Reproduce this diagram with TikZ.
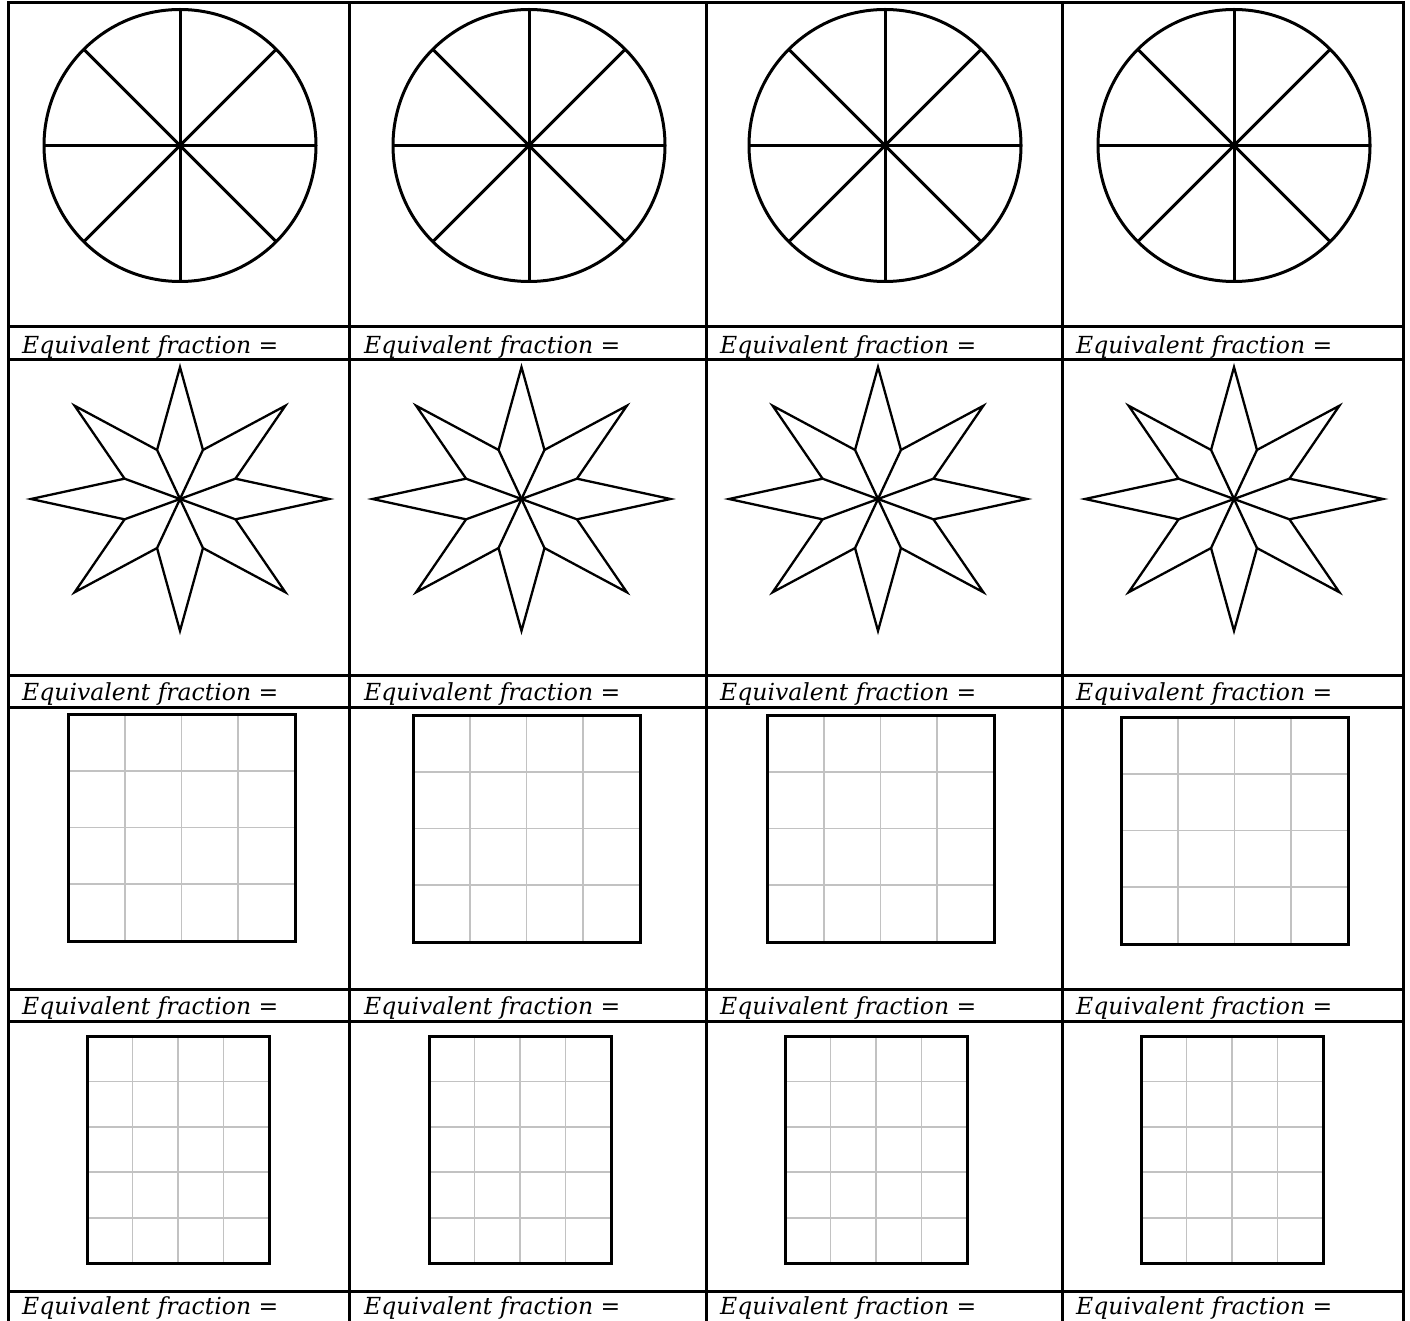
\documentclass[tikz,border=0pt]{standalone}
\usepackage{fontspec}
\setmainfont{DejaVu Serif}
\begin{document}
\begin{tikzpicture}[x=1pt,y=-1pt,
  rule/.style={line width=3pt,line cap=rect},
  pie/.style={line width=3pt},
  starline/.style={line width=2.3pt,line join=miter},
  frame/.style={line width=3pt},
  fine/.style={line width=1.8pt,draw=black!24},
  lbl/.style={anchor=base west,inner sep=0pt,font=\fontsize{23.5}{27}\selectfont\itshape}]
\useasboundingbox (0,0) rectangle (1410,1321);
\fill[white] (0,0) rectangle (1410,1321);

% circles (row 1)
\foreach \cx in {180,529,885,1234}{
  \draw[pie] (\cx,145.5) circle[radius=136];
  \foreach \a in {0,45,...,315}
    \draw[pie] (\cx,145.5) -- ++(\a:136);
}

% stars (row 2)
\foreach \cx in {180,521.5,878,1234}{
  \begin{scope}[shift={(\cx,499)},yscale=0.885]
    \draw[starline] (0:149) \foreach \k in {0,...,7}{ -- ({45*\k+22.5}:60) -- ({45*\k+45}:149) } -- cycle;
    \foreach \k in {0,...,7}
      \draw[starline] (0,0) -- ({45*\k+22.5}:60);
  \end{scope}
}

% 4x4 squares (row 3)
\foreach \xa/\ya in {68/714,413/715,767/715,1121/717}{
  \begin{scope}[shift={(\xa,\ya)}]
    \foreach \i in {1,2,3}{
      \draw[fine] ({\i*227/4},0) -- ({\i*227/4},227);
      \draw[fine] (0,{\i*227/4}) -- (227,{\i*227/4});
    }
    \draw[frame] (0,0) rectangle (227,227);
  \end{scope}
}

% 4x5 rectangles (row 4)
\foreach \xa in {87,429,785,1141}{
  \begin{scope}[shift={(\xa,1036)}]
    \foreach \i in {1,2,3}
      \draw[fine] ({\i*182/4},0) -- ({\i*182/4},227);
    \foreach \j in {1,2,3,4}
      \draw[fine] (0,{\j*227/5}) -- (182,{\j*227/5});
    \draw[frame] (0,0) rectangle (182,227);
  \end{scope}
}

% table rules
\foreach \x in {8.5,349.5,706,1062,1403}
  \draw[rule] (\x,3) -- (\x,1321);
\foreach \y in {3,327,359,675,707,989,1021,1291}
  \draw[rule] (8.5,\y) -- (1403,\y);

% labels
\foreach \r/\b in {1/353,2/700,3/1014,4/1314}{
  \foreach \c/\lx in {1/22,2/364,3/720,4/1076}{
    \node[lbl] (lbl-\r-\c) at (\lx,\b) {Equivalent fraction =};
  }
}
\end{tikzpicture}
\end{document}
